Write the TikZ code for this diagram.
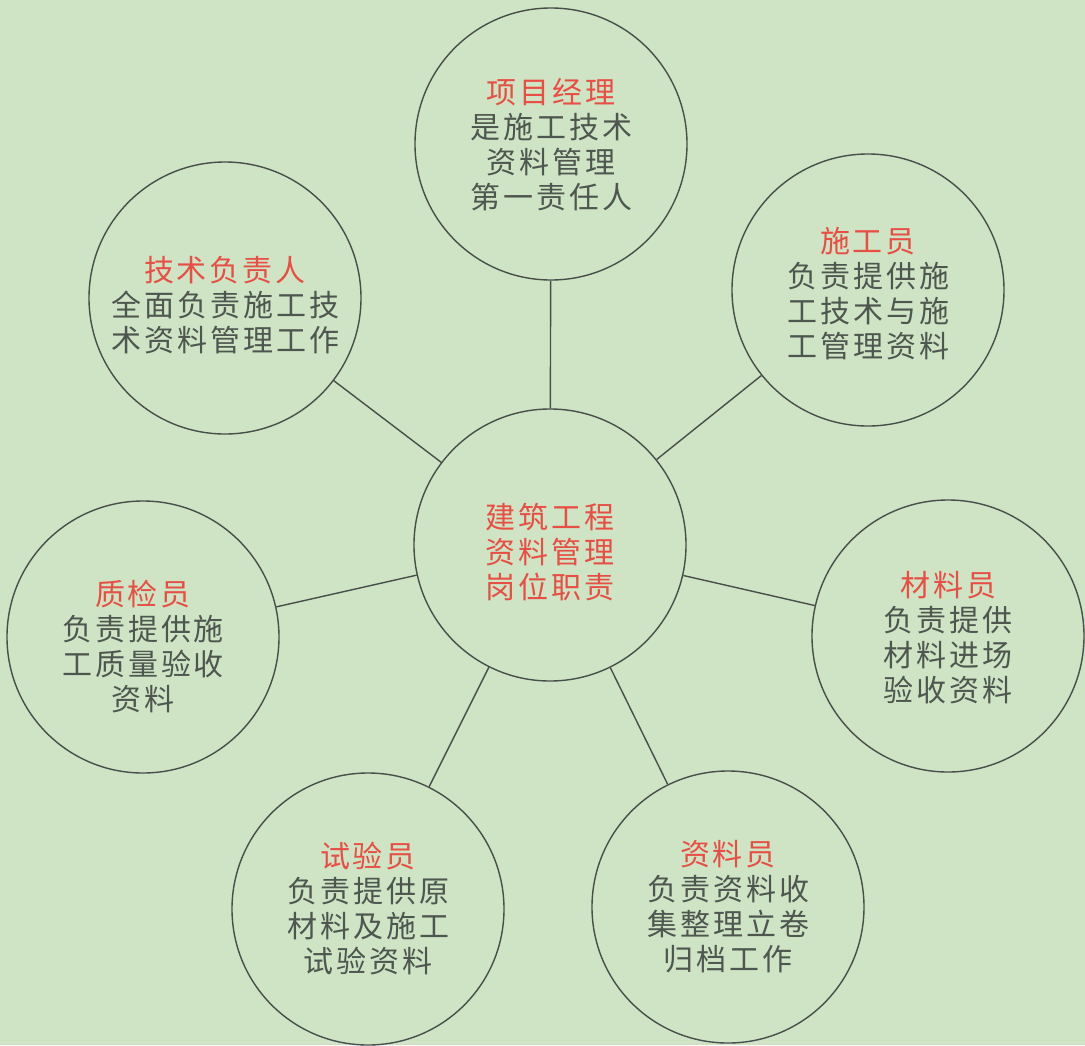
\documentclass[tikz,border=0pt]{standalone}
\usepackage{fontspec}
\newfontfamily\cjk{Noto Sans CJK SC}[LetterSpace=10]
\definecolor{bg}{RGB}{206,228,197}
\definecolor{titlered}{RGB}{232,78,68}
\definecolor{bodygray}{RGB}{78,86,80}
\definecolor{linegray}{RGB}{72,78,74}
\begin{document}
\begin{tikzpicture}[x=1pt,y=-1pt,
  role/.style={circle, draw=linegray, line width=1.4pt, minimum size=272pt, inner sep=0pt},
  txt/.style={align=center, text=bodygray, inner sep=0pt, font=\cjk\fontsize{30}{35}\selectfont},
  conn/.style={draw=linegray, line width=1.4pt}]
\fill[bg] (0,0) rectangle (1085,1045);
\useasboundingbox (0,0) rectangle (1085,1045);

\node[role] (hub) at (550,545) {};
\node[role] (pm) at (551,144) {};
\node[role] (tech) at (225,298) {};
\node[role] (con) at (868,290) {};
\node[role] (qc) at (143,637) {};
\node[role] (mat) at (948,636) {};
\node[role] (test) at (368,909) {};
\node[role] (doc) at (728,907) {};

\node[txt, text=titlered] (hubT) at ([yshift=-7pt]hub.center) {建筑工程\\资料管理\\岗位职责};
\node[txt] (pmT) at ([yshift=-1pt]pm.center) {\textcolor{titlered}{项目经理}\\是施工技术\\资料管理\\第一责任人};
\node[txt] (techT) at ([yshift=-7pt]tech.center) {\textcolor{titlered}{技术负责人}\\全面负责施工技\\术资料管理工作};
\node[txt] (conT) at ([yshift=-4pt]con.center) {\textcolor{titlered}{施工员}\\负责提供施\\工技术与施\\工管理资料};
\node[txt] (qcT) at ([yshift=-10pt]qc.center) {\textcolor{titlered}{质检员}\\负责提供施\\工质量验收\\资料};
\node[txt] (matT) at ([yshift=-2pt]mat.center) {\textcolor{titlered}{材料员}\\负责提供\\材料进场\\验收资料};
\node[txt] (testT) at (test.center) {\textcolor{titlered}{试验员}\\负责提供原\\材料及施工\\试验资料};
\node[txt] (docT) at (doc.center) {\textcolor{titlered}{资料员}\\负责资料收\\集整理立卷\\归档工作};

\foreach \n in {pm,tech,con,qc,mat,test,doc}
  \draw[conn] (hub) -- (\n);
\end{tikzpicture}
\end{document}
